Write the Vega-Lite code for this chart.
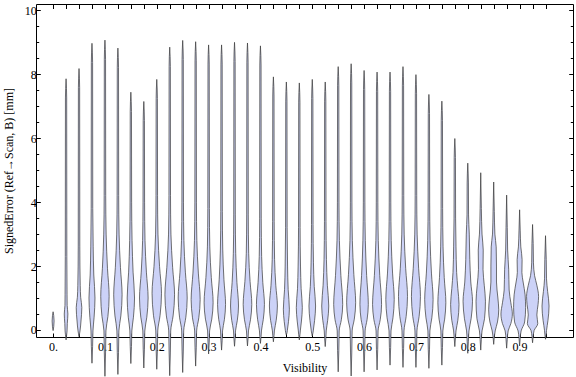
{
"$schema": "https://vega.github.io/schema/vega-lite/v6.json",
"width": 537, "height": 333,
"autosize": {"type": "none"},
"padding": {"left": 36, "top": 4, "right": 3, "bottom": 40},
"background": "white",
"config": {"font": "Liberation Serif", "view": {"stroke": null},
 "axis": {"domainColor": "black", "tickColor": "black", "labelColor": "black", "titleColor": "black", "labelFont": "Liberation Serif", "titleFont": "Liberation Serif", "labelFontSize": 12, "titleFontSize": 12, "titleFontWeight": "normal", "grid": false, "domainWidth": 1, "tickWidth": 1}},
"data": {"values": [
{"vis":0,"err":-0.02,"lo":0,"hi":0},{"vis":0,"err":0.1,"lo":-0.0012,"hi":0.0012},{"vis":0,"err":0.28,"lo":-0.0019,"hi":0.0019},{"vis":0,"err":0.45,"lo":-0.0012,"hi":0.0012},{"vis":0,"err":0.57,"lo":0,"hi":0},
{"vis":0.025,"err":-0.31,"lo":0.025,"hi":0.025},{"vis":0.025,"err":-0.15,"lo":0.0238,"hi":0.0262},{"vis":0.025,"err":-0.03,"lo":0.0231,"hi":0.0269},{"vis":0.025,"err":0.2,"lo":0.0226,"hi":0.0274},{"vis":0.025,"err":0.5,"lo":0.0215,"hi":0.0285},{"vis":0.025,"err":0.77,"lo":0.0229,"hi":0.0271},{"vis":0.025,"err":1.1,"lo":0.0231,"hi":0.0269},{"vis":0.025,"err":2.3,"lo":0.0235,"hi":0.0265},{"vis":0.025,"err":7.26,"lo":0.0238,"hi":0.0262},{"vis":0.025,"err":7.86,"lo":0.025,"hi":0.025},
{"vis":0.05,"err":-0.21,"lo":0.05,"hi":0.05},{"vis":0.05,"err":-0.1,"lo":0.0488,"hi":0.0512},{"vis":0.05,"err":-0.03,"lo":0.0481,"hi":0.0519},{"vis":0.05,"err":0.28,"lo":0.0462,"hi":0.0538},{"vis":0.05,"err":0.7,"lo":0.0446,"hi":0.0554},{"vis":0.05,"err":1.02,"lo":0.0468,"hi":0.0532},{"vis":0.05,"err":1.4,"lo":0.0477,"hi":0.0523},{"vis":0.05,"err":2.6,"lo":0.0485,"hi":0.0515},{"vis":0.05,"err":7.58,"lo":0.0488,"hi":0.0512},{"vis":0.05,"err":8.18,"lo":0.05,"hi":0.05},
{"vis":0.075,"err":-1.04,"lo":0.075,"hi":0.075},{"vis":0.075,"err":-0.52,"lo":0.0738,"hi":0.0762},{"vis":0.075,"err":-0.03,"lo":0.0731,"hi":0.0769},{"vis":0.075,"err":0.4,"lo":0.0709,"hi":0.0791},{"vis":0.075,"err":1.0,"lo":0.0692,"hi":0.0808},{"vis":0.075,"err":1.72,"lo":0.0715,"hi":0.0785},{"vis":0.075,"err":2.6,"lo":0.0727,"hi":0.0773},{"vis":0.075,"err":3.8,"lo":0.0735,"hi":0.0765},{"vis":0.075,"err":8.37,"lo":0.0738,"hi":0.0762},{"vis":0.075,"err":8.97,"lo":0.075,"hi":0.075},
{"vis":0.1,"err":-1.45,"lo":0.1,"hi":0.1},{"vis":0.1,"err":-0.72,"lo":0.0988,"hi":0.1012},{"vis":0.1,"err":-0.03,"lo":0.0981,"hi":0.1019},{"vis":0.1,"err":0.42,"lo":0.0943,"hi":0.1057},{"vis":0.1,"err":1.05,"lo":0.0919,"hi":0.1081},{"vis":0.1,"err":1.93,"lo":0.0951,"hi":0.1049},{"vis":0.1,"err":3.0,"lo":0.0977,"hi":0.1023},{"vis":0.1,"err":4.2,"lo":0.0985,"hi":0.1015},{"vis":0.1,"err":8.47,"lo":0.0988,"hi":0.1012},{"vis":0.1,"err":9.07,"lo":0.1,"hi":0.1},
{"vis":0.125,"err":-1.39,"lo":0.125,"hi":0.125},{"vis":0.125,"err":-0.7,"lo":0.1238,"hi":0.1262},{"vis":0.125,"err":-0.03,"lo":0.1231,"hi":0.1269},{"vis":0.125,"err":0.44,"lo":0.1193,"hi":0.1307},{"vis":0.125,"err":1.1,"lo":0.1169,"hi":0.1331},{"vis":0.125,"err":1.96,"lo":0.1201,"hi":0.1299},{"vis":0.125,"err":3.0,"lo":0.1227,"hi":0.1273},{"vis":0.125,"err":4.2,"lo":0.1235,"hi":0.1265},{"vis":0.125,"err":8.22,"lo":0.1238,"hi":0.1262},{"vis":0.125,"err":8.82,"lo":0.125,"hi":0.125},
{"vis":0.15,"err":-1.05,"lo":0.15,"hi":0.15},{"vis":0.15,"err":-0.52,"lo":0.1488,"hi":0.1512},{"vis":0.15,"err":-0.03,"lo":0.1481,"hi":0.1519},{"vis":0.15,"err":0.4,"lo":0.145,"hi":0.155},{"vis":0.15,"err":1.0,"lo":0.1429,"hi":0.1571},{"vis":0.15,"err":1.81,"lo":0.1457,"hi":0.1543},{"vis":0.15,"err":2.8,"lo":0.1477,"hi":0.1523},{"vis":0.15,"err":4.0,"lo":0.1485,"hi":0.1515},{"vis":0.15,"err":6.84,"lo":0.1488,"hi":0.1512},{"vis":0.15,"err":7.44,"lo":0.15,"hi":0.15},
{"vis":0.175,"err":-1.19,"lo":0.175,"hi":0.175},{"vis":0.175,"err":-0.6,"lo":0.1738,"hi":0.1762},{"vis":0.175,"err":-0.03,"lo":0.1731,"hi":0.1769},{"vis":0.175,"err":0.4,"lo":0.1692,"hi":0.1808},{"vis":0.175,"err":1.0,"lo":0.1667,"hi":0.1833},{"vis":0.175,"err":1.81,"lo":0.17,"hi":0.18},{"vis":0.175,"err":2.8,"lo":0.1727,"hi":0.1773},{"vis":0.175,"err":4.0,"lo":0.1735,"hi":0.1765},{"vis":0.175,"err":6.55,"lo":0.1738,"hi":0.1762},{"vis":0.175,"err":7.15,"lo":0.175,"hi":0.175},
{"vis":0.2,"err":-1.23,"lo":0.2,"hi":0.2},{"vis":0.2,"err":-0.62,"lo":0.1988,"hi":0.2012},{"vis":0.2,"err":-0.03,"lo":0.1981,"hi":0.2019},{"vis":0.2,"err":0.46,"lo":0.1936,"hi":0.2064},{"vis":0.2,"err":1.15,"lo":0.1909,"hi":0.2091},{"vis":0.2,"err":1.98,"lo":0.1946,"hi":0.2054},{"vis":0.2,"err":3.0,"lo":0.1977,"hi":0.2023},{"vis":0.2,"err":4.2,"lo":0.1985,"hi":0.2015},{"vis":0.2,"err":7.24,"lo":0.1988,"hi":0.2012},{"vis":0.2,"err":7.84,"lo":0.2,"hi":0.2},
{"vis":0.225,"err":-1.43,"lo":0.225,"hi":0.225},{"vis":0.225,"err":-0.72,"lo":0.2238,"hi":0.2262},{"vis":0.225,"err":-0.03,"lo":0.2231,"hi":0.2269},{"vis":0.225,"err":0.44,"lo":0.2185,"hi":0.2315},{"vis":0.225,"err":1.1,"lo":0.2157,"hi":0.2343},{"vis":0.225,"err":1.96,"lo":0.2194,"hi":0.2306},{"vis":0.225,"err":3.0,"lo":0.2227,"hi":0.2273},{"vis":0.225,"err":4.2,"lo":0.2235,"hi":0.2265},{"vis":0.225,"err":8.25,"lo":0.2238,"hi":0.2262},{"vis":0.225,"err":8.85,"lo":0.225,"hi":0.225},
{"vis":0.25,"err":-1.33,"lo":0.25,"hi":0.25},{"vis":0.25,"err":-0.66,"lo":0.2488,"hi":0.2512},{"vis":0.25,"err":-0.03,"lo":0.2481,"hi":0.2519},{"vis":0.25,"err":0.4,"lo":0.2439,"hi":0.2561},{"vis":0.25,"err":1.0,"lo":0.2413,"hi":0.2587},{"vis":0.25,"err":1.81,"lo":0.2448,"hi":0.2552},{"vis":0.25,"err":2.8,"lo":0.2477,"hi":0.2523},{"vis":0.25,"err":4.0,"lo":0.2485,"hi":0.2515},{"vis":0.25,"err":8.46,"lo":0.2488,"hi":0.2512},{"vis":0.25,"err":9.06,"lo":0.25,"hi":0.25},
{"vis":0.275,"err":-1.13,"lo":0.275,"hi":0.275},{"vis":0.275,"err":-0.56,"lo":0.2738,"hi":0.2762},{"vis":0.275,"err":-0.03,"lo":0.2731,"hi":0.2769},{"vis":0.275,"err":0.38,"lo":0.2689,"hi":0.2811},{"vis":0.275,"err":0.95,"lo":0.2663,"hi":0.2837},{"vis":0.275,"err":1.78,"lo":0.2698,"hi":0.2802},{"vis":0.275,"err":2.8,"lo":0.2727,"hi":0.2773},{"vis":0.275,"err":4.0,"lo":0.2735,"hi":0.2765},{"vis":0.275,"err":8.42,"lo":0.2738,"hi":0.2762},{"vis":0.275,"err":9.02,"lo":0.275,"hi":0.275},
{"vis":0.3,"err":-0.75,"lo":0.3,"hi":0.3},{"vis":0.3,"err":-0.38,"lo":0.2988,"hi":0.3012},{"vis":0.3,"err":-0.03,"lo":0.2981,"hi":0.3019},{"vis":0.3,"err":0.34,"lo":0.2939,"hi":0.3061},{"vis":0.3,"err":0.85,"lo":0.2913,"hi":0.3087},{"vis":0.3,"err":1.64,"lo":0.2948,"hi":0.3052},{"vis":0.3,"err":2.6,"lo":0.2977,"hi":0.3023},{"vis":0.3,"err":3.8,"lo":0.2985,"hi":0.3015},{"vis":0.3,"err":8.32,"lo":0.2988,"hi":0.3012},{"vis":0.3,"err":8.92,"lo":0.3,"hi":0.3},
{"vis":0.325,"err":-0.63,"lo":0.325,"hi":0.325},{"vis":0.325,"err":-0.32,"lo":0.3238,"hi":0.3262},{"vis":0.325,"err":-0.03,"lo":0.3231,"hi":0.3269},{"vis":0.325,"err":0.32,"lo":0.3196,"hi":0.3304},{"vis":0.325,"err":0.8,"lo":0.3173,"hi":0.3327},{"vis":0.325,"err":1.57,"lo":0.3204,"hi":0.3296},{"vis":0.325,"err":2.5,"lo":0.3227,"hi":0.3273},{"vis":0.325,"err":3.7,"lo":0.3235,"hi":0.3265},{"vis":0.325,"err":8.32,"lo":0.3238,"hi":0.3262},{"vis":0.325,"err":8.92,"lo":0.325,"hi":0.325},
{"vis":0.35,"err":-0.51,"lo":0.35,"hi":0.35},{"vis":0.35,"err":-0.26,"lo":0.3488,"hi":0.3512},{"vis":0.35,"err":-0.03,"lo":0.3481,"hi":0.3519},{"vis":0.35,"err":0.3,"lo":0.3446,"hi":0.3554},{"vis":0.35,"err":0.75,"lo":0.3423,"hi":0.3577},{"vis":0.35,"err":1.49,"lo":0.3454,"hi":0.3546},{"vis":0.35,"err":2.4,"lo":0.3477,"hi":0.3523},{"vis":0.35,"err":3.6,"lo":0.3485,"hi":0.3515},{"vis":0.35,"err":8.4,"lo":0.3488,"hi":0.3512},{"vis":0.35,"err":9.0,"lo":0.35,"hi":0.35},
{"vis":0.375,"err":-0.5,"lo":0.375,"hi":0.375},{"vis":0.375,"err":-0.25,"lo":0.3738,"hi":0.3762},{"vis":0.375,"err":-0.03,"lo":0.3731,"hi":0.3769},{"vis":0.375,"err":0.32,"lo":0.3692,"hi":0.3808},{"vis":0.375,"err":0.8,"lo":0.3667,"hi":0.3833},{"vis":0.375,"err":1.52,"lo":0.37,"hi":0.38},{"vis":0.375,"err":2.4,"lo":0.3727,"hi":0.3773},{"vis":0.375,"err":3.6,"lo":0.3735,"hi":0.3765},{"vis":0.375,"err":8.38,"lo":0.3738,"hi":0.3762},{"vis":0.375,"err":8.98,"lo":0.375,"hi":0.375},
{"vis":0.4,"err":-0.42,"lo":0.4,"hi":0.4},{"vis":0.4,"err":-0.21,"lo":0.3988,"hi":0.4012},{"vis":0.4,"err":-0.03,"lo":0.3981,"hi":0.4019},{"vis":0.4,"err":0.32,"lo":0.3946,"hi":0.4054},{"vis":0.4,"err":0.8,"lo":0.3923,"hi":0.4077},{"vis":0.4,"err":1.48,"lo":0.3954,"hi":0.4046},{"vis":0.4,"err":2.3,"lo":0.3977,"hi":0.4023},{"vis":0.4,"err":3.5,"lo":0.3985,"hi":0.4015},{"vis":0.4,"err":8.29,"lo":0.3988,"hi":0.4012},{"vis":0.4,"err":8.89,"lo":0.4,"hi":0.4},
{"vis":0.425,"err":-0.37,"lo":0.425,"hi":0.425},{"vis":0.425,"err":-0.18,"lo":0.4238,"hi":0.4262},{"vis":0.425,"err":-0.03,"lo":0.4231,"hi":0.4269},{"vis":0.425,"err":0.3,"lo":0.4196,"hi":0.4304},{"vis":0.425,"err":0.75,"lo":0.4173,"hi":0.4327},{"vis":0.425,"err":1.4,"lo":0.4204,"hi":0.4296},{"vis":0.425,"err":2.2,"lo":0.4227,"hi":0.4273},{"vis":0.425,"err":3.4,"lo":0.4235,"hi":0.4265},{"vis":0.425,"err":7.32,"lo":0.4238,"hi":0.4262},{"vis":0.425,"err":7.92,"lo":0.425,"hi":0.425},
{"vis":0.45,"err":-0.16,"lo":0.45,"hi":0.45},{"vis":0.45,"err":-0.09,"lo":0.4488,"hi":0.4512},{"vis":0.45,"err":-0.02,"lo":0.4481,"hi":0.4519},{"vis":0.45,"err":0.26,"lo":0.4459,"hi":0.4541},{"vis":0.45,"err":0.65,"lo":0.4442,"hi":0.4558},{"vis":0.45,"err":1.26,"lo":0.4465,"hi":0.4535},{"vis":0.45,"err":2.0,"lo":0.4477,"hi":0.4523},{"vis":0.45,"err":3.2,"lo":0.4485,"hi":0.4515},{"vis":0.45,"err":7.16,"lo":0.4488,"hi":0.4512},{"vis":0.45,"err":7.76,"lo":0.45,"hi":0.45},
{"vis":0.475,"err":-0.31,"lo":0.475,"hi":0.475},{"vis":0.475,"err":-0.15,"lo":0.4738,"hi":0.4762},{"vis":0.475,"err":-0.03,"lo":0.4731,"hi":0.4769},{"vis":0.475,"err":0.28,"lo":0.4709,"hi":0.4791},{"vis":0.475,"err":0.7,"lo":0.4692,"hi":0.4808},{"vis":0.475,"err":1.29,"lo":0.4715,"hi":0.4785},{"vis":0.475,"err":2.0,"lo":0.4727,"hi":0.4773},{"vis":0.475,"err":3.2,"lo":0.4735,"hi":0.4765},{"vis":0.475,"err":7.13,"lo":0.4738,"hi":0.4762},{"vis":0.475,"err":7.73,"lo":0.475,"hi":0.475},
{"vis":0.5,"err":-0.19,"lo":0.5,"hi":0.5},{"vis":0.5,"err":-0.1,"lo":0.4988,"hi":0.5012},{"vis":0.5,"err":-0.03,"lo":0.4981,"hi":0.5019},{"vis":0.5,"err":0.3,"lo":0.4955,"hi":0.5045},{"vis":0.5,"err":0.75,"lo":0.4936,"hi":0.5064},{"vis":0.5,"err":1.36,"lo":0.4962,"hi":0.5038},{"vis":0.5,"err":2.1,"lo":0.4977,"hi":0.5023},{"vis":0.5,"err":3.3,"lo":0.4985,"hi":0.5015},{"vis":0.5,"err":7.24,"lo":0.4988,"hi":0.5012},{"vis":0.5,"err":7.84,"lo":0.5,"hi":0.5},
{"vis":0.525,"err":-0.52,"lo":0.525,"hi":0.525},{"vis":0.525,"err":-0.26,"lo":0.5238,"hi":0.5262},{"vis":0.525,"err":-0.03,"lo":0.5231,"hi":0.5269},{"vis":0.525,"err":0.3,"lo":0.5203,"hi":0.5297},{"vis":0.525,"err":0.75,"lo":0.5182,"hi":0.5318},{"vis":0.525,"err":1.4,"lo":0.5209,"hi":0.5291},{"vis":0.525,"err":2.2,"lo":0.5227,"hi":0.5273},{"vis":0.525,"err":3.4,"lo":0.5235,"hi":0.5265},{"vis":0.525,"err":7.16,"lo":0.5238,"hi":0.5262},{"vis":0.525,"err":7.76,"lo":0.525,"hi":0.525},
{"vis":0.55,"err":-1.31,"lo":0.55,"hi":0.55},{"vis":0.55,"err":-0.65,"lo":0.5488,"hi":0.5512},{"vis":0.55,"err":-0.03,"lo":0.5481,"hi":0.5519},{"vis":0.55,"err":0.32,"lo":0.5439,"hi":0.5561},{"vis":0.55,"err":0.8,"lo":0.5413,"hi":0.5587},{"vis":0.55,"err":1.7,"lo":0.5448,"hi":0.5552},{"vis":0.55,"err":2.8,"lo":0.5477,"hi":0.5523},{"vis":0.55,"err":4.0,"lo":0.5485,"hi":0.5515},{"vis":0.55,"err":7.64,"lo":0.5488,"hi":0.5512},{"vis":0.55,"err":8.24,"lo":0.55,"hi":0.55},
{"vis":0.575,"err":-1.44,"lo":0.575,"hi":0.575},{"vis":0.575,"err":-0.72,"lo":0.5738,"hi":0.5762},{"vis":0.575,"err":-0.03,"lo":0.5731,"hi":0.5769},{"vis":0.575,"err":0.34,"lo":0.5689,"hi":0.5811},{"vis":0.575,"err":0.85,"lo":0.5663,"hi":0.5837},{"vis":0.575,"err":1.73,"lo":0.5698,"hi":0.5802},{"vis":0.575,"err":2.8,"lo":0.5727,"hi":0.5773},{"vis":0.575,"err":4.0,"lo":0.5735,"hi":0.5765},{"vis":0.575,"err":7.73,"lo":0.5738,"hi":0.5762},{"vis":0.575,"err":8.33,"lo":0.575,"hi":0.575},
{"vis":0.6,"err":-1.31,"lo":0.6,"hi":0.6},{"vis":0.6,"err":-0.65,"lo":0.5988,"hi":0.6012},{"vis":0.6,"err":-0.03,"lo":0.5981,"hi":0.6019},{"vis":0.6,"err":0.32,"lo":0.5943,"hi":0.6057},{"vis":0.6,"err":0.8,"lo":0.5919,"hi":0.6081},{"vis":0.6,"err":1.7,"lo":0.5951,"hi":0.6049},{"vis":0.6,"err":2.8,"lo":0.5977,"hi":0.6023},{"vis":0.6,"err":4.0,"lo":0.5985,"hi":0.6015},{"vis":0.6,"err":7.52,"lo":0.5988,"hi":0.6012},{"vis":0.6,"err":8.12,"lo":0.6,"hi":0.6},
{"vis":0.625,"err":-1.25,"lo":0.625,"hi":0.625},{"vis":0.625,"err":-0.62,"lo":0.6238,"hi":0.6262},{"vis":0.625,"err":-0.03,"lo":0.6231,"hi":0.6269},{"vis":0.625,"err":0.32,"lo":0.6189,"hi":0.6311},{"vis":0.625,"err":0.8,"lo":0.6163,"hi":0.6337},{"vis":0.625,"err":1.7,"lo":0.6198,"hi":0.6302},{"vis":0.625,"err":2.8,"lo":0.6227,"hi":0.6273},{"vis":0.625,"err":4.0,"lo":0.6235,"hi":0.6265},{"vis":0.625,"err":7.47,"lo":0.6238,"hi":0.6262},{"vis":0.625,"err":8.07,"lo":0.625,"hi":0.625},
{"vis":0.65,"err":-1.1,"lo":0.65,"hi":0.65},{"vis":0.65,"err":-0.55,"lo":0.6488,"hi":0.6512},{"vis":0.65,"err":-0.03,"lo":0.6481,"hi":0.6519},{"vis":0.65,"err":0.38,"lo":0.6443,"hi":0.6557},{"vis":0.65,"err":0.95,"lo":0.6419,"hi":0.6581},{"vis":0.65,"err":1.78,"lo":0.6451,"hi":0.6549},{"vis":0.65,"err":2.8,"lo":0.6477,"hi":0.6523},{"vis":0.65,"err":4.0,"lo":0.6485,"hi":0.6515},{"vis":0.65,"err":7.47,"lo":0.6488,"hi":0.6512},{"vis":0.65,"err":8.07,"lo":0.65,"hi":0.65},
{"vis":0.675,"err":-1.17,"lo":0.675,"hi":0.675},{"vis":0.675,"err":-0.58,"lo":0.6738,"hi":0.6762},{"vis":0.675,"err":-0.03,"lo":0.6731,"hi":0.6769},{"vis":0.675,"err":0.42,"lo":0.6689,"hi":0.6811},{"vis":0.675,"err":1.05,"lo":0.6663,"hi":0.6837},{"vis":0.675,"err":1.93,"lo":0.6698,"hi":0.6802},{"vis":0.675,"err":3.0,"lo":0.6727,"hi":0.6773},{"vis":0.675,"err":4.2,"lo":0.6735,"hi":0.6765},{"vis":0.675,"err":7.64,"lo":0.6738,"hi":0.6762},{"vis":0.675,"err":8.24,"lo":0.675,"hi":0.675},
{"vis":0.7,"err":-1.17,"lo":0.7,"hi":0.7},{"vis":0.7,"err":-0.58,"lo":0.6988,"hi":0.7012},{"vis":0.7,"err":-0.03,"lo":0.6981,"hi":0.7019},{"vis":0.7,"err":0.42,"lo":0.6939,"hi":0.7061},{"vis":0.7,"err":1.05,"lo":0.6913,"hi":0.7087},{"vis":0.7,"err":1.93,"lo":0.6948,"hi":0.7052},{"vis":0.7,"err":3.0,"lo":0.6977,"hi":0.7023},{"vis":0.7,"err":4.2,"lo":0.6985,"hi":0.7015},{"vis":0.7,"err":7.39,"lo":0.6988,"hi":0.7012},{"vis":0.7,"err":7.99,"lo":0.7,"hi":0.7},
{"vis":0.725,"err":-1.2,"lo":0.725,"hi":0.725},{"vis":0.725,"err":-0.6,"lo":0.7238,"hi":0.7262},{"vis":0.725,"err":-0.03,"lo":0.7231,"hi":0.7269},{"vis":0.725,"err":0.38,"lo":0.7193,"hi":0.7307},{"vis":0.725,"err":0.95,"lo":0.7169,"hi":0.7331},{"vis":0.725,"err":1.78,"lo":0.7201,"hi":0.7299},{"vis":0.725,"err":2.8,"lo":0.7227,"hi":0.7273},{"vis":0.725,"err":4.0,"lo":0.7235,"hi":0.7265},{"vis":0.725,"err":6.77,"lo":0.7238,"hi":0.7262},{"vis":0.725,"err":7.37,"lo":0.725,"hi":0.725},
{"vis":0.75,"err":-1.1,"lo":0.75,"hi":0.75},{"vis":0.75,"err":-0.55,"lo":0.7488,"hi":0.7512},{"vis":0.75,"err":-0.03,"lo":0.7481,"hi":0.7519},{"vis":0.75,"err":0.34,"lo":0.7446,"hi":0.7554},{"vis":0.75,"err":0.85,"lo":0.7423,"hi":0.7577},{"vis":0.75,"err":1.64,"lo":0.7454,"hi":0.7546},{"vis":0.75,"err":2.6,"lo":0.7477,"hi":0.7523},{"vis":0.75,"err":3.8,"lo":0.7485,"hi":0.7515},{"vis":0.75,"err":6.56,"lo":0.7488,"hi":0.7512},{"vis":0.75,"err":7.16,"lo":0.75,"hi":0.75},
{"vis":0.775,"err":-0.52,"lo":0.775,"hi":0.775},{"vis":0.775,"err":-0.25,"lo":0.7738,"hi":0.7762},{"vis":0.775,"err":-0.03,"lo":0.7727,"hi":0.7773},{"vis":0.775,"err":0.3,"lo":0.7692,"hi":0.7808},{"vis":0.775,"err":0.8,"lo":0.7669,"hi":0.7831},{"vis":0.775,"err":1.3,"lo":0.7692,"hi":0.7808},{"vis":0.775,"err":1.8,"lo":0.7715,"hi":0.7785},{"vis":0.775,"err":2.6,"lo":0.7727,"hi":0.7773},{"vis":0.775,"err":3.5,"lo":0.7735,"hi":0.7765},{"vis":0.775,"err":5.4,"lo":0.7738,"hi":0.7762},{"vis":0.775,"err":5.99,"lo":0.775,"hi":0.775},
{"vis":0.8,"err":-0.73,"lo":0.8,"hi":0.8},{"vis":0.8,"err":-0.35,"lo":0.7988,"hi":0.8012},{"vis":0.8,"err":-0.03,"lo":0.7977,"hi":0.8023},{"vis":0.8,"err":0.35,"lo":0.7936,"hi":0.8064},{"vis":0.8,"err":0.9,"lo":0.7909,"hi":0.8091},{"vis":0.8,"err":1.5,"lo":0.7942,"hi":0.8058},{"vis":0.8,"err":2.2,"lo":0.7961,"hi":0.8039},{"vis":0.8,"err":3.0,"lo":0.7971,"hi":0.8029},{"vis":0.8,"err":3.6,"lo":0.7985,"hi":0.8015},{"vis":0.8,"err":4.6,"lo":0.7988,"hi":0.8012},{"vis":0.8,"err":5.22,"lo":0.8,"hi":0.8},
{"vis":0.825,"err":-0.63,"lo":0.825,"hi":0.825},{"vis":0.825,"err":-0.3,"lo":0.8238,"hi":0.8262},{"vis":0.825,"err":-0.03,"lo":0.8225,"hi":0.8275},{"vis":0.825,"err":0.35,"lo":0.8177,"hi":0.8323},{"vis":0.825,"err":0.9,"lo":0.8159,"hi":0.8341},{"vis":0.825,"err":1.4,"lo":0.8182,"hi":0.8318},{"vis":0.825,"err":1.9,"lo":0.8206,"hi":0.8294},{"vis":0.825,"err":2.5,"lo":0.8202,"hi":0.8298},{"vis":0.825,"err":3.0,"lo":0.8225,"hi":0.8275},{"vis":0.825,"err":3.8,"lo":0.8238,"hi":0.8262},{"vis":0.825,"err":4.92,"lo":0.825,"hi":0.825},
{"vis":0.85,"err":-0.45,"lo":0.85,"hi":0.85},{"vis":0.85,"err":-0.22,"lo":0.8488,"hi":0.8512},{"vis":0.85,"err":-0.03,"lo":0.8471,"hi":0.8529},{"vis":0.85,"err":0.25,"lo":0.8427,"hi":0.8573},{"vis":0.85,"err":0.63,"lo":0.8403,"hi":0.8597},{"vis":0.85,"err":1.0,"lo":0.8419,"hi":0.8581},{"vis":0.85,"err":1.5,"lo":0.8446,"hi":0.8554},{"vis":0.85,"err":2.0,"lo":0.8446,"hi":0.8554},{"vis":0.85,"err":2.6,"lo":0.8452,"hi":0.8548},{"vis":0.85,"err":3.0,"lo":0.8477,"hi":0.8523},{"vis":0.85,"err":3.7,"lo":0.8488,"hi":0.8512},{"vis":0.85,"err":4.63,"lo":0.85,"hi":0.85},
{"vis":0.875,"err":-0.57,"lo":0.875,"hi":0.875},{"vis":0.875,"err":-0.3,"lo":0.8738,"hi":0.8762},{"vis":0.875,"err":-0.03,"lo":0.8721,"hi":0.8779},{"vis":0.875,"err":0.2,"lo":0.8669,"hi":0.8831},{"vis":0.875,"err":0.5,"lo":0.864,"hi":0.886},{"vis":0.875,"err":0.85,"lo":0.8669,"hi":0.8831},{"vis":0.875,"err":1.25,"lo":0.8702,"hi":0.8798},{"vis":0.875,"err":1.9,"lo":0.8711,"hi":0.8789},{"vis":0.875,"err":2.5,"lo":0.8731,"hi":0.8769},{"vis":0.875,"err":3.2,"lo":0.8738,"hi":0.8762},{"vis":0.875,"err":4.22,"lo":0.875,"hi":0.875},
{"vis":0.9,"err":-0.5,"lo":0.9,"hi":0.9},{"vis":0.9,"err":-0.25,"lo":0.8988,"hi":0.9012},{"vis":0.9,"err":-0.03,"lo":0.8971,"hi":0.9029},{"vis":0.9,"err":0.25,"lo":0.8903,"hi":0.9097},{"vis":0.9,"err":0.7,"lo":0.8884,"hi":0.9116},{"vis":0.9,"err":1.1,"lo":0.8894,"hi":0.9106},{"vis":0.9,"err":1.5,"lo":0.8932,"hi":0.9068},{"vis":0.9,"err":1.8,"lo":0.8956,"hi":0.9044},{"vis":0.9,"err":2.2,"lo":0.8952,"hi":0.9048},{"vis":0.9,"err":2.6,"lo":0.8977,"hi":0.9023},{"vis":0.9,"err":3.1,"lo":0.8988,"hi":0.9012},{"vis":0.9,"err":3.76,"lo":0.9,"hi":0.9},
{"vis":0.925,"err":-0.4,"lo":0.925,"hi":0.925},{"vis":0.925,"err":-0.2,"lo":0.9238,"hi":0.9262},{"vis":0.925,"err":-0.02,"lo":0.9221,"hi":0.9279},{"vis":0.925,"err":0.2,"lo":0.915,"hi":0.935},{"vis":0.925,"err":0.47,"lo":0.9167,"hi":0.9333},{"vis":0.925,"err":0.8,"lo":0.9144,"hi":0.9356},{"vis":0.925,"err":1.05,"lo":0.9134,"hi":0.9366},{"vis":0.925,"err":1.4,"lo":0.9167,"hi":0.9333},{"vis":0.925,"err":1.7,"lo":0.9211,"hi":0.9289},{"vis":0.925,"err":2.1,"lo":0.9233,"hi":0.9267},{"vis":0.925,"err":2.7,"lo":0.9238,"hi":0.9262},{"vis":0.925,"err":3.3,"lo":0.925,"hi":0.925},
{"vis":0.95,"err":-0.29,"lo":0.95,"hi":0.95},{"vis":0.95,"err":-0.15,"lo":0.9488,"hi":0.9512},{"vis":0.95,"err":-0.02,"lo":0.9481,"hi":0.9519},{"vis":0.95,"err":0.3,"lo":0.9453,"hi":0.9547},{"vis":0.95,"err":0.75,"lo":0.9432,"hi":0.9568},{"vis":0.95,"err":1.2,"lo":0.9459,"hi":0.9541},{"vis":0.95,"err":1.6,"lo":0.9481,"hi":0.9519},{"vis":0.95,"err":2.2,"lo":0.9486,"hi":0.9514},{"vis":0.95,"err":2.95,"lo":0.95,"hi":0.95}
]},
"layer": [
 {"mark": {"type": "area", "orient": "horizontal", "interpolate": "monotone", "fill": "#ccd2f7", "stroke": "#3a3a3a", "strokeWidth": 0.8, "strokeOpacity": 0.9},
  "encoding": {
   "x": {"field": "lo", "type": "quantitative", "scale": {"domain": [-0.033, 1.003], "nice": false, "zero": false},
    "axis": {"orient": "bottom", "title": "Visibility", "values": [0,0.025,0.05,0.075,0.1,0.125,0.15,0.175,0.2,0.225,0.25,0.275,0.3,0.325,0.35,0.375,0.4,0.425,0.45,0.475,0.5,0.525,0.55,0.575,0.6,0.625,0.65,0.675,0.7,0.725,0.75,0.775,0.8,0.825,0.85,0.875,0.9,0.925,0.95],
     "tickSize": -4, "labelOverlap": false, "labelPadding": 8, "titlePadding": 10,
     "labelExpr": "abs(datum.value*10 - round(datum.value*10)) < 0.01 ? (datum.value == 0 ? '0.' : format(datum.value, '.1f')) : ''"}},
   "x2": {"field": "hi"},
   "y": {"field": "err", "type": "quantitative", "scale": {"domain": [-0.22, 10.2], "nice": false, "zero": false},
    "axis": {"orient": "left", "title": "SignedError (Ref\u2192Scan, B) [mm]", "values": [0,0.5,1,1.5,2,2.5,3,3.5,4,4.5,5,5.5,6,6.5,7,7.5,8,8.5,9,9.5,10],
     "tickSize": {"condition": {"test": "datum.value % 2 == 0", "value": -4.3}, "value": -2.7},
     "labelPadding": 4, "titlePadding": 9, "labelOverlap": false,
     "labelExpr": "datum.value % 2 == 0 ? format(datum.value, 'd') : ''"}},
   "detail": {"field": "vis", "type": "quantitative"}
  }},
 {"mark": {"type": "area", "orient": "horizontal", "opacity": 0},
  "encoding": {
   "x": {"field": "lo", "type": "quantitative", "scale": {"domain": [-0.033, 1.003], "nice": false, "zero": false},
    "axis": {"orient": "top", "title": null, "labels": false, "values": [0,0.025,0.05,0.075,0.1,0.125,0.15,0.175,0.2,0.225,0.25,0.275,0.3,0.325,0.35,0.375,0.4,0.425,0.45,0.475,0.5,0.525,0.55,0.575,0.6,0.625,0.65,0.675,0.7,0.725,0.75,0.775,0.8,0.825,0.85,0.875,0.9,0.925,0.95], "tickSize": -4.5}},
   "x2": {"field": "hi"},
   "y": {"field": "err", "type": "quantitative", "scale": {"domain": [-0.22, 10.2], "nice": false, "zero": false},
    "axis": {"orient": "right", "title": null, "labels": false, "values": [0,0.5,1,1.5,2,2.5,3,3.5,4,4.5,5,5.5,6,6.5,7,7.5,8,8.5,9,9.5,10],
     "tickSize": {"condition": {"test": "datum.value % 2 == 0", "value": -4.3}, "value": -2.7}}},
   "detail": {"field": "vis", "type": "quantitative"}
  }}
],
"resolve": {"axis": {"x": "independent", "y": "independent"}}
}
